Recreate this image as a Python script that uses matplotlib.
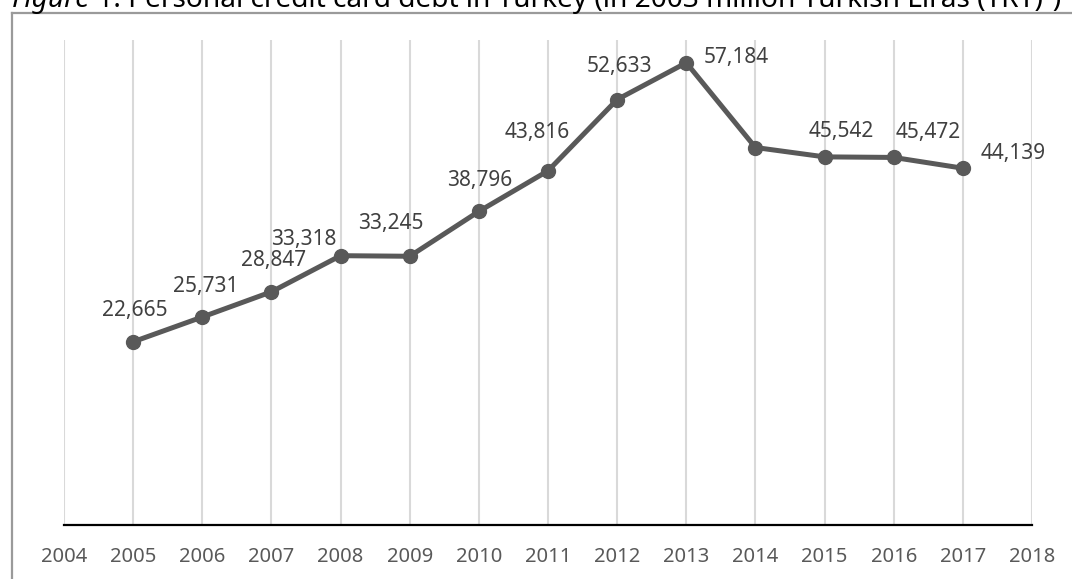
import matplotlib
matplotlib.use('Agg')
import matplotlib.pyplot as plt
from matplotlib.lines import Line2D

years = [2005, 2006, 2007, 2008, 2009, 2010, 2011, 2012, 2013, 2014, 2015, 2016, 2017]
debt = [22665, 25731, 28847, 33318, 33245, 38796, 43816, 52633, 57184, 46700, 45542, 45472, 44139]
labels = ['22,665', '25,731', '28,847', '33,318', '33,245', '38,796', '43,816',
          '52,633', '57,184', None, '45,542', '45,472', '44,139']
tick_years = list(range(2004, 2019))

# label offsets in pixels (x, y), placed by hand like in the original
offsets = [(2, 31), (3, 31), (2, 31), (-37, 16), (-19, 33), (1, 31), (-11, 38),
           (2, 33), (50, 5), (0, 0), (17, 25), (35, 25), (50, 15)]

plt.rcParams['font.family'] = ['Noto Sans', 'DejaVu Sans']

fig = plt.figure(figsize=(10.72, 5.79), dpi=100)
ax = fig.add_axes([64 / 1072, 54 / 579, 968 / 1072, 485 / 579])

line_color = '#595959'
ax.plot(years, debt, color=line_color, lw=3.6, marker='o', markersize=10,
        solid_capstyle='round', zorder=3)

for x, y, lab, off in zip(years, debt, labels, offsets):
    if lab is None:
        continue
    ax.annotate(lab, (x, y), xytext=off, textcoords='offset pixels',
                ha='center', va='center', fontsize=15, color='#404040', zorder=4)

ax.set_xlim(2004, 2018)
ax.set_ylim(0, 60000)
ax.set_xticks(tick_years)
ax.set_xticklabels([str(y) for y in tick_years])
ax.tick_params(axis='x', length=0, pad=16, labelsize=14.5, labelcolor='#595959')
ax.set_yticks([])
ax.grid(axis='x', color='#d9d9d9', lw=1.5, zorder=0)
for side in ['top', 'right', 'left']:
    ax.spines[side].set_visible(False)
ax.spines['bottom'].set_color('black')
ax.spines['bottom'].set_linewidth(1.6)
ax.set_facecolor('none')

# frame around the figure (left and top edges visible)
fig.add_artist(Line2D([11.5 / 1072, 11.5 / 1072], [0, 1 - 12.5 / 579],
                      transform=fig.transFigure, color='#9a9a9a', lw=1.6))
fig.add_artist(Line2D([11.5 / 1072, 1], [1 - 12.5 / 579, 1 - 12.5 / 579],
                      transform=fig.transFigure, color='#9a9a9a', lw=1.6))

# title, mostly cut off at the top edge
ty = 1 - 7 / 579
t1 = fig.text(12 / 1072, ty, 'Figure', fontsize=20.2, style='italic',
              va='baseline', ha='left', color='black')
fig.canvas.draw()
bb = t1.get_window_extent()
fig.text(bb.x1 / fig.bbox.width, ty,
         ' 1. Personal credit card debt in Turkey (in 2003 million Turkish Liras (TRY)\u00b9)',
         fontsize=20.2, va='baseline', ha='left', color='black')

fig.savefig('out.png', dpi=100)
